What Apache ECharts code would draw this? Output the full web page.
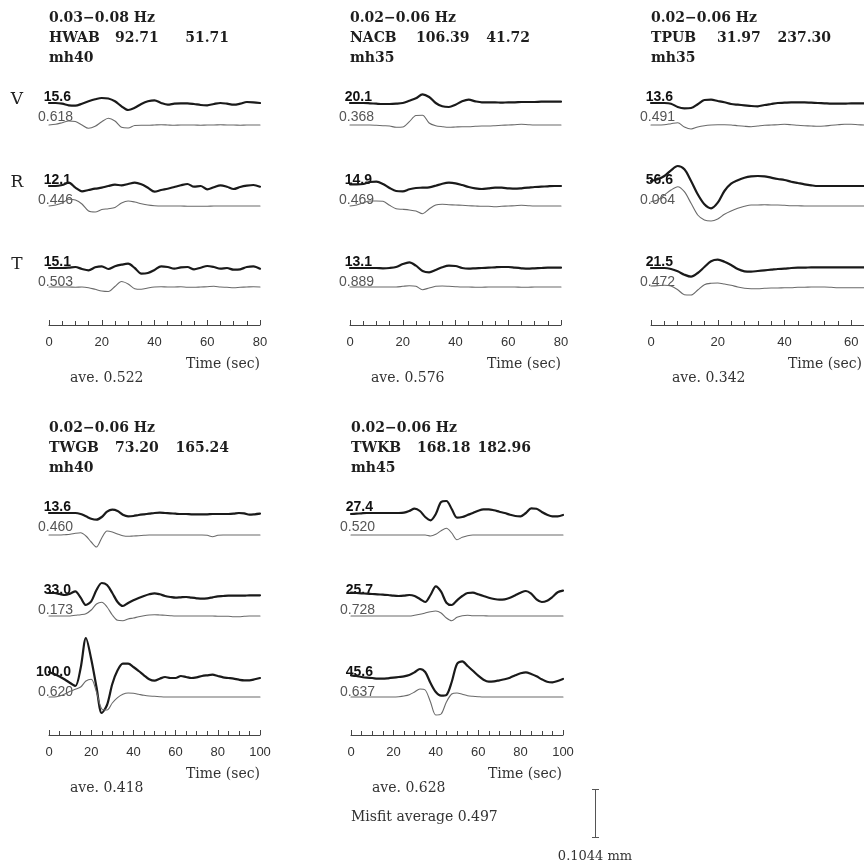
<!DOCTYPE html>
<html>
<head>
<meta charset="utf-8">
<script src="https://cdn.jsdelivr.net/npm/echarts@6/dist/echarts.min.js"></script>
<style>
  html, body { margin: 0; padding: 0; background: #fff; }
  #chart { width: 864px; height: 867px; }
</style>
</head>
<body>
<div id="chart"></div>
<script>
// ---- Station headers ----
const stations  = ['HWAB', 'NACB', 'TPUB', 'TWGB', 'TWKB'];
const bands     = ['0.03\u22120.08 Hz', '0.02\u22120.06 Hz', '0.02\u22120.06 Hz', '0.02\u22120.06 Hz', '0.02\u22120.06 Hz'];
const distances = ['92.71', '106.39', '31.97', '73.20', '168.18'];
const azimuths  = ['51.71', '41.72', '237.30', '165.24', '182.96'];
const models    = ['mh40', 'mh35', 'mh35', 'mh40', 'mh45'];
const components = ['V', 'R', 'T'];

// Peak amplitudes of the observed records and per-component misfits
const ampLabels = [
  ['15.6', '12.1', '15.1'],
  ['20.1', '14.9', '13.1'],
  ['13.6', '56.6', '21.5'],
  ['13.6', '33.0', '100.0'],
  ['27.4', '25.7', '45.6']
];
const misfits = [
  ['0.618', '0.446', '0.503'],
  ['0.368', '0.469', '0.889'],
  ['0.491', '0.064', '0.472'],
  ['0.460', '0.173', '0.620'],
  ['0.520', '0.728', '0.637']
];
const averages = ['0.522', '0.576', '0.342', '0.418', '0.628'];
const misfitAverage = '0.497';
const scaleBarLabel = '0.1044 mm';

// Time sampling (sec) and time-axis extent for each station
const sampleStep = [2.5, 2.5, 2, 2.5, 2.5];
const timeMax    = [80, 80, 80, 100, 100];
const timeTickStep = 20;

// ---- Waveforms (observed = thick, synthetic = thin), relative displacement ----
// HWAB
const hwabVObs = [0,0,-0.7,-2.3,-2.7,-0.7,1.7,3.7,5,4.5,1.7,-3.3,-7,-4.8,-1,1.7,2.7,0,-1.7,-0.7,-0.3,-0.3,-1,-2,-2.3,-1,0,-0.7,-1.7,-0.7,1,0.7,0];
const hwabVSyn = [0,0.7,2.3,4,3.5,0,-3.3,-1.3,3.3,6.7,4,-2.3,-3,-0.5,-0.3,-0.3,0,0.3,0,-0.3,0,0,0,-0.3,0,0,0.3,0,0,-0.3,0,0,0];
const hwabRObs = [0,0,1,3.3,-1.7,-5.3,-4,-2.7,-1.7,0,1.3,0.7,2,3.3,1.7,-1.7,-5.7,-4,-2.7,-1,0.7,2,-0.7,0,-3.3,-1.3,0.7,-0.7,-3,-1,0.3,1,-0.7];
const hwabRSyn = [0,1,3,6.7,6,2,-5,-6,-3.5,-2.7,-1.5,3,5,4,2.3,1,0.3,0,0,0,0,-0.3,-0.3,-0.3,-0.3,0,0,0,0,0,0,0,0];
const hwabTObs = [0,0,0,0.3,1,-1,-2.3,0.7,1.7,-1,1.7,3.3,4.3,0,-5.7,-5,-2,1.7,1,-0.7,0.7,1,-1.3,0.3,2,1,-0.7,0,-1.7,-1.3,1,1.7,-0.7];
const hwabTSyn = [0,0,0,0,-0.3,0,-0.7,-2.3,-4,-4.5,0.5,5.5,3,-1.7,-2.3,-1,0,0.3,0,0,0.3,-0.3,-0.3,0,0.3,0.7,0,-0.3,-0.7,-0.3,0,0.3,0];
// NACB
const nacbVObs = [0,0,0,-0.3,-0.7,-1,-1,-0.7,0,2.3,4.7,8.7,6,0,-3.3,-4,-1.7,1.7,3.3,1.7,0.7,0.7,0.7,0.3,0.7,0.7,1,1,1,1.3,1.3,1.3,1.3];
const nacbVSyn = [0,0,0,0,-0.3,-0.7,-1,-2.3,-2,3.3,9.5,9.8,2,-0.7,-1.7,-2.3,-2,-1.7,-1.7,-1.3,-1,-1,-0.7,-0.3,0,0.3,0.7,0.3,0,0,0,0,0];
const nacbRObs = [1.7,1.7,2,4,4.3,2,-2,-5,-5.3,-3.3,-2,-1.7,-1.3,0.3,2.3,3.3,2.7,1,-1,-2.3,-3,-2.3,-1.7,-1.7,-2.3,-2.7,-2.3,-1.7,-1,-0.7,-0.3,0,0];
const nacbRSyn = [0,1,3.3,5,5,4.7,0.7,-2.7,-3.3,-4,-5,-7.7,-3,1,1.7,1.3,1,0.7,0.3,0,-0.3,-0.3,-0.7,-0.3,0,0.3,0.7,0.3,0,0,0,0,0];
const nacbTObs = [0,0,0,0,0,-0.3,0,1,4,5.7,2.3,-3,-4.3,-2,0.7,2.3,2,0,-0.7,-0.3,0,0.3,0.7,1,1,0.3,-0.3,-0.7,-0.3,0,0.3,0.3,0.3];
const nacbTSyn = [0,0,0,0,0,0,0,0,0.7,1.3,0.7,-2.7,-1,0.7,1,0.7,0.3,0,0,-0.3,-0.3,0,0,0,0,0,-0.3,-0.3,0,0,0,0,0];
// TPUB
const tpubVObs = [0,0,0,-0.7,-4,-5.3,-5,-1.3,3,3.3,2,0.7,-1,-1.7,-2.3,-3,-3.3,-2,-1,0,0.3,0.7,0.7,0.7,0.3,0,-0.3,-0.7,-0.7,-0.7,-0.3,-0.3,-0.3];
const tpubVSyn = [0,0,0.3,1.3,2.3,-2,-4,-2,-0.7,0,0.3,0.3,0,-0.7,-1.3,-1.7,-1,-0.3,0,0.3,0.7,0.3,-0.3,-0.7,-1,-1.3,-1,-0.3,0.3,0.7,0.7,0.3,0];
const tpubRObs = [5,6.7,10,15.7,20,16.7,5,-8.3,-18.3,-22.3,-16.7,-5,2.3,5.7,8.3,9.7,10,9.7,8.3,7,6,4.3,3,1.7,0.7,0,0,0,0,0,0,0,0];
const tpubRSyn = [4.3,6,11,16,19.3,14.3,2.7,-9,-14,-15,-13,-8.3,-5,-2.3,-0.3,1,1,1.3,1,1,0.7,0.3,0.3,0,0,0,0,0,0,0,0,0,0];
const tpubTObs = [0,0,0,-1,-3.3,-6.7,-8.7,-5,1,6.7,8.3,6.3,3,-1,-3.3,-3.7,-3,-2.3,-1.7,-1,-0.7,0,0.3,0.3,0.7,0.7,0.7,0.7,0.7,0.7,0.7,0.7,0.7];
const tpubTSyn = [1,1.3,1.7,1,-2.7,-7.7,-8,-3,2.3,3.7,4,3,1.7,0,-1.3,-1.7,-1.7,-1.3,-1,-1,-0.7,-0.7,-0.3,-0.3,0,0,0,-0.3,-0.7,-0.7,-0.7,-0.7,-0.7];
// TWGB
const twgbVObs = [0,0,0,0,0,0,-1,-3.3,-5.7,-6.7,-4,1.3,3.3,2,-1.7,-3.3,-3,-2,-1.3,-0.7,0,0.3,0,-0.3,-0.7,-1,-1,-1.3,-1.3,-1.3,-1.3,-1,-1,-1,-1,-0.7,0,-0.3,-1.7,-1.3,-0.7];
const twgbVSyn = [0,0,0,0.3,0.7,1.7,2.3,-1,-7,-12,-3,4,3,1,-0.7,-1.3,-1,-0.7,-0.3,0,0,0,0,0,0,0,0,0,0,0,-0.3,-1.7,-0.3,0,0,0,0,0,0,0,0];
const twgbRObs = [3,3,2,1,2.3,4.7,-1.7,-9,-5.3,6,13,11,3,-6,-10,-7,-4.3,-2,0,1.7,2.7,1.7,0,-1,-1.7,-1.3,-1,-1.7,-2.3,-2.7,-2.3,-1.3,-0.3,0,0.3,0.3,0.3,0.3,0.7,0.7,0.7];
const twgbRSyn = [0,0,0,0,0,0.7,1.3,2.3,6,12,13.7,9,1,-4.3,-4.7,-3,-2,-0.7,0.3,1,1.3,1,0.7,0.3,0,0,0,0,0,0,0,0,-0.3,-0.3,-0.3,-0.7,-0.7,-0.3,0,0,0];
const twgbTObs = [6,4,1.5,-1.5,-5,-8,10,40,19,-9,-35,-27,-6,7.7,14.3,14.3,11,7,2.7,-1.3,-2.7,-0.7,1,0,0,2,1,0,0.7,2,2.7,3.3,2,0.7,0,-0.7,-1.7,-2.3,-2.3,-1.3,0];
const twgbTSyn = [0,0,1,3,5.7,7.7,10,16,17.7,5,-12,-13,-6,-0.7,2.7,4,3.7,2.7,1.7,1,0.7,0.3,0,0,0,0,0,0,0,0,0,0,0,0,0,0,0,0,0,0,0];
// TWKB
const twkbVObs = [-1,-0.7,-0.3,0,0,0,0,0,0,0,0.3,2,4.3,2,-4,-7.3,-1,11,12,4,-4.7,-4,-2,0,2.3,3.7,3.7,2.7,1.3,0,-1.7,-3,-3.3,0,4.7,4.3,1,-1.7,-3.3,-3.3,-2];
const twkbVSyn = [0,0,0,0,0,0,0,0,0,0,0,0,0,0,0,-1,0.7,4.3,6.7,2,-4.7,-2.3,-0.7,0,0,0,0,0,0,0,0,0,0,0,0,0,0,0,0,0,0];
const twkbRObs = [3.3,3,2.7,2.3,2,1.7,1.3,1,0.3,0,0.3,1,0,-3,-6,1,9.7,4.3,-6.7,-9,-4.3,0,3,3.3,1.7,0,-1.7,-3,-3.7,-3.3,-1.7,0.7,3.3,5,2.3,-3.3,-6,-4.7,-1,3.7,5.3];
const twkbRSyn = [0,0,0,0,0,0,0,0,0,0,0,0,0.7,1.7,3,4.3,5,3,-2,-4.7,-1.3,0.3,0.7,0.3,0.3,0.3,0,0,0,0,0,0,0,0,0,0,0,0,0,0,0];
const twkbTObs = [2.7,2,1,0.3,0,-0.7,-0.7,-0.3,0.3,1,1.7,3,5.7,9,6,-5,-14,-17.7,-17,-4,14,16.7,12,7.3,2.3,-1.7,-3.7,-3.3,-2.3,-1.3,0.3,2.7,4.7,5.7,4,1.7,-1.3,-3.7,-4.3,-3,-1];
const twkbTSyn = [0,0,0,0,0,0,0,0,0,0.3,1,2.3,5,8,7,-5,-18,-17,-5,3,4,2.7,1.3,0.7,0.3,0,0,0,0,0,0,0,0,0,0,0,0,0,0,0,0];

const observed = [
  [hwabVObs, hwabRObs, hwabTObs],
  [nacbVObs, nacbRObs, nacbTObs],
  [tpubVObs, tpubRObs, tpubTObs],
  [twgbVObs, twgbRObs, twgbTObs],
  [twkbVObs, twkbRObs, twkbTObs]
];
const synthetic = [
  [hwabVSyn, hwabRSyn, hwabTSyn],
  [nacbVSyn, nacbRSyn, nacbTSyn],
  [tpubVSyn, tpubRSyn, tpubTSyn],
  [twgbVSyn, twgbRSyn, twgbTSyn],
  [twkbVSyn, twkbRSyn, twkbTSyn]
];

// ---- Page layout ----
const panelLeft  = [49, 350, 651, 49, 351];
const panelWidth = [211, 211, 267, 211, 212];   // pixel length of the time axis
const panelRow   = [0, 0, 0, 1, 1];
const rowTop     = [0, 410];
const obsBase = [103, 186, 268];
const synBase = [125, 206, 287];
const axisY = 325;

const serif = '"DejaVu Serif", "Liberation Serif", serif';
const sans  = '"Liberation Sans", Arial, sans-serif';

const grids = [], xAxes = [], yAxes = [], series = [], texts = [];

function addGrid(grid, xAxis, yAxis) {
  const i = grids.length;
  grids.push(Object.assign({ containLabel: false, outerBoundsMode: 'none' }, grid));
  xAxes.push(Object.assign({ gridIndex: i }, xAxis));
  yAxes.push(Object.assign({ gridIndex: i }, yAxis));
  return i;
}

function addText(str, x, y, font, fill, align) {
  texts.push({
    type: 'text', x: x, y: y, silent: true,
    style: {
      text: str, font: font, fill: fill,
      align: align, textAlign: align,
      verticalAlign: 'middle', textVerticalAlign: 'middle'
    }
  });
}

const hidden = { show: false };
const headFont = 'bold 14px ' + serif;

stations.forEach((name, s) => {
  const x0 = panelLeft[s];
  const top = rowTop[panelRow[s]];
  const W = panelWidth[s];

  // header block: band, station / distance / azimuth, model
  addText(bands[s], x0, top + 18, headFont, '#1e1e1e', 'left');
  addText(name, x0, top + 38, headFont, '#1e1e1e', 'left');
  addText(distances[s], x0 + 66, top + 38, headFont, '#1e1e1e', 'left');
  addText(azimuths[s], x0 + 180, top + 38, headFont, '#1e1e1e', 'right');
  addText(models[s], x0, top + 58, headFont, '#1e1e1e', 'left');

  components.forEach((comp, c) => {
    const tracePairs = [
      { data: observed[s][c], base: obsBase[c], color: '#1a1a1a', width: 2.2 },
      { data: synthetic[s][c], base: synBase[c], color: '#6a6a6a', width: 1.1 }
    ];
    tracePairs.forEach(tr => {
      const gi = addGrid(
        { left: x0, top: top + tr.base - 50, width: W, height: 100 },
        { type: 'value', min: 0, max: timeMax[s], show: false },
        { type: 'value', min: -50, max: 50, show: false }
      );
      series.push({
        type: 'line',
        xAxisIndex: gi, yAxisIndex: gi,
        data: tr.data.map((v, i) => [i * sampleStep[s], v]),
        showSymbol: false, smooth: 0.3, silent: true, clip: false,
        lineStyle: { color: tr.color, width: tr.width, cap: 'round', join: 'round' }
      });
    });

    addText(ampLabels[s][c], x0 + 22, top + obsBase[c] - 6, 'bold 14px ' + sans, '#111', 'right');
    addText(misfits[s][c], x0 + 24, top + obsBase[c] + 14, '14px ' + sans, '#555', 'right');
    if (s === 0) {
      addText(comp, 17, top + obsBase[c] - 3, '17px ' + serif, '#222', 'center');
    }
  });

  // time axis
  addGrid(
    { left: x0, top: top + axisY - 1, width: W, height: 1 },
    {
      type: 'value', min: 0, max: timeMax[s], interval: timeTickStep,
      position: 'bottom',
      axisLine: { show: true, onZero: false, lineStyle: { color: '#444', width: 1 } },
      axisTick: { show: true, inside: true, length: 5, lineStyle: { color: '#444', width: 1 } },
      minorTick: { show: true, splitNumber: s === 2 ? 5 : 4, length: 4, lineStyle: { color: '#444', width: 1 } },
      axisLabel: { show: true, margin: 11, fontSize: 13, fontFamily: sans, color: '#333' },
      splitLine: hidden, minorSplitLine: hidden
    },
    { type: 'value', show: false }
  );

  addText('Time (sec)', x0 + 211, top + 364, '14px ' + serif, '#333', 'right');
  addText('ave. ' + averages[s], x0 + 21, top + 378, '14px ' + serif, '#333', 'left');
});

addText('Misfit average ' + misfitAverage, 351, 817, '14px ' + serif, '#333', 'left');
addText(scaleBarLabel, 595, 857, '13px ' + serif, '#333', 'center');

// amplitude scale bar
const bar = [
  { type: 'line', silent: true, shape: { x1: 595.5, y1: 789, x2: 595.5, y2: 838 }, style: { stroke: '#555', lineWidth: 1 } },
  { type: 'line', silent: true, shape: { x1: 592, y1: 789.5, x2: 599, y2: 789.5 }, style: { stroke: '#555', lineWidth: 1 } },
  { type: 'line', silent: true, shape: { x1: 592, y1: 837.5, x2: 599, y2: 837.5 }, style: { stroke: '#555', lineWidth: 1 } }
];

const chart = echarts.init(document.getElementById('chart'), null, { renderer: 'canvas' });
chart.setOption({
  animation: false,
  backgroundColor: '#ffffff',
  grid: grids,
  xAxis: xAxes,
  yAxis: yAxes,
  series: series,
  graphic: { elements: texts.concat(bar) }
});
</script>
</body>
</html>
